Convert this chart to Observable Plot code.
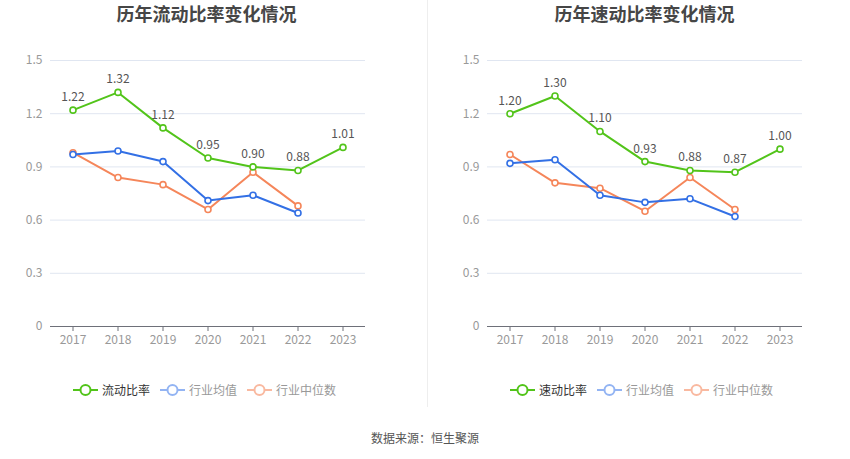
<!DOCTYPE html>
<html><head><meta charset="utf-8">
<script src="https://cdn.jsdelivr.net/npm/d3@7"></script>
<script src="https://cdn.jsdelivr.net/npm/@observablehq/plot@0.6"></script>
<style>
body{margin:0;background:#fff;font-family:"Noto Sans CJK SC","Noto Sans",sans-serif;}
#wrap{position:relative;width:850px;height:459px;overflow:hidden;}
.title{position:absolute;top:0px;width:425px;text-align:center;font-size:18px;font-weight:bold;color:#464646;}
.plot{position:absolute;top:40px;}
.legend{position:absolute;top:381px;font-size:12px;display:flex;align-items:center;}
.legend .it{display:flex;align-items:center;margin-right:10px;}
.legend svg{margin-right:4px;}
#sep{position:absolute;left:427px;top:0;width:1px;height:407px;background:#eee;z-index:5;}
#cap{position:absolute;top:429px;width:850px;text-align:center;font-size:12px;color:#555;}
</style></head>
<body><div id="wrap">
<div class="plot" id="p1" style="left:0"></div>
<div class="plot" id="p2" style="left:428px"></div>
<div class="title" style="left:-6px">历年流动比率变化情况</div>
<div class="title" style="left:432px">历年速动比率变化情况</div>
<div id="sep"></div>
<div class="legend" id="l1" style="left:73px"></div>
<div class="legend" id="l2" style="left:510px"></div>
<div id="cap">数据来源：恒生聚源</div>
</div>
<script>
const years = ["2017","2018","2019","2020","2021","2022","2023"];
const industryYears = ["2017","2018","2019","2020","2021","2022"];
const yTicks = [0, 0.3, 0.6, 0.9, 1.2, 1.5];

const currentRatio = [1.22, 1.32, 1.12, 0.95, 0.90, 0.88, 1.01];
const currentAvg = [0.97, 0.99, 0.93, 0.71, 0.74, 0.64];
const currentMedian = [0.98, 0.84, 0.80, 0.66, 0.87, 0.68];

const quickRatio = [1.20, 1.30, 1.10, 0.93, 0.88, 0.87, 1.00];
const quickAvg = [0.92, 0.94, 0.74, 0.70, 0.72, 0.62];
const quickMedian = [0.97, 0.81, 0.78, 0.65, 0.84, 0.66];

const C_MAIN = "#52c41a", C_AVG = "#3370e5", C_MED = "#f5865a";

function makePlot(main, avg, med, ml, mr, w) {
  const mainD = years.map((y, i) => ({year: y, v: main[i]}));
  const avgD = industryYears.map((y, i) => ({year: y, v: avg[i]}));
  const medD = industryYears.map((y, i) => ({year: y, v: med[i]}));
  const series = [[medD, C_MED], [avgD, C_AVG], [mainD, C_MAIN]];
  return Plot.plot({
    width: w, height: 316,
    marginTop: 20, marginBottom: 30, marginLeft: ml, marginRight: mr,
    style: {fontFamily: "'Noto Sans CJK SC','Noto Sans',sans-serif", fontSize: "12px", background: "transparent"},
    x: {type: "band", domain: years, padding: 0, label: null},
    y: {domain: [0, 1.5], ticks: yTicks, label: null},
    marks: [
      Plot.ruleY(yTicks.slice(1), {stroke: "#e0e6f1", strokeWidth: 1}),
      Plot.axisY({ticks: yTicks, tickSize: 0, tickPadding: 8, tickFormat: d => d === 0 ? "0" : d3.format(".1f")(d), fill: "#999", fontSize: 12}),
      Plot.axisX({tickSize: 5, tickPadding: 4, stroke: "#6e7079", fill: "#999", fontSize: 12}),
      Plot.ruleY([0], {stroke: "#6e7079", strokeWidth: 1}),
      ...series.flatMap(([d, c]) => [
        Plot.line(d, {x: "year", y: "v", stroke: c, strokeWidth: 2}),
        Plot.dot(d, {x: "year", y: "v", r: 3, stroke: c, strokeWidth: 1.6, fill: "#fff"})
      ]),
      Plot.text(mainD, {x: "year", y: "v", text: d => d.v.toFixed(2), dy: -9, lineAnchor: "bottom", fill: "#555", fontSize: 12})
    ]
  });
}

document.getElementById("p1").append(makePlot(currentRatio, currentAvg, currentMedian, 50, 60, 425));
document.getElementById("p2").append(makePlot(quickRatio, quickAvg, quickMedian, 59, 48, 422));

function legend(el, names) {
  const items = [[names[0], C_MAIN, "#333"], ["行业均值", "#93b4f3", "#999"], ["行业中位数", "#f9b9a0", "#999"]];
  for (const [n, c, tc] of items) {
    const it = document.createElement("div");
    it.className = "it";
    it.innerHTML = `<svg width="25" height="14"><line x1="0" x2="25" y1="7" y2="7" stroke="${c}" stroke-width="2"/><circle cx="12.5" cy="7" r="5" fill="#fff" stroke="${c}" stroke-width="2"/></svg><span style="color:${tc}">${n}</span>`;
    el.append(it);
  }
}
legend(document.getElementById("l1"), ["流动比率"]);
legend(document.getElementById("l2"), ["速动比率"]);
</script>
</body></html>
